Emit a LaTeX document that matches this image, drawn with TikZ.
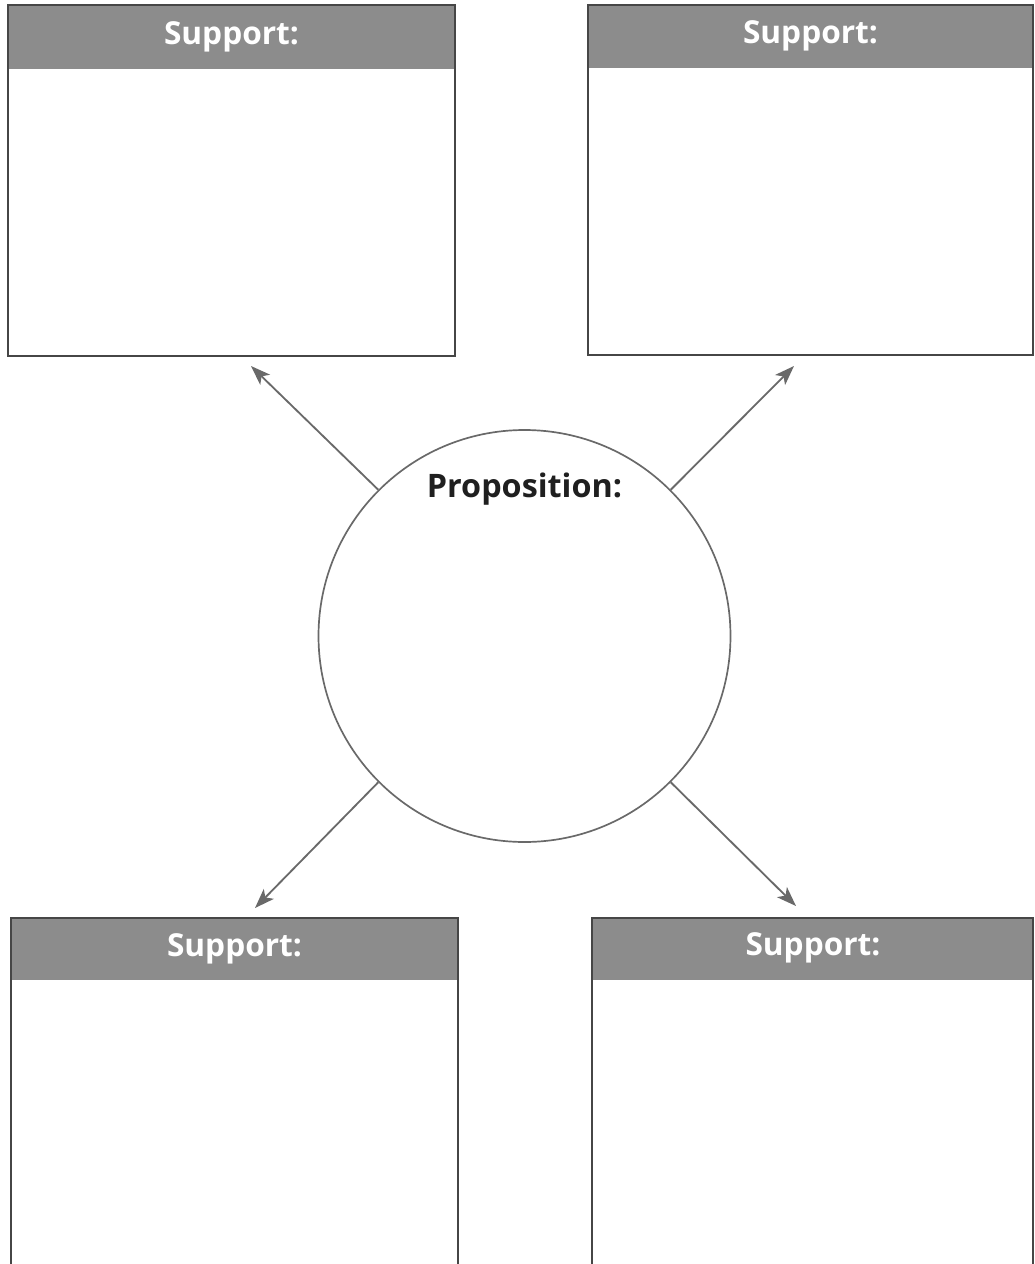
\documentclass[tikz,border=0pt]{standalone}
\usepackage{fontspec}
\newfontfamily\headfont{Open Sans}
\usetikzlibrary{arrows.meta}
\definecolor{headergray}{RGB}{140,140,140}
\definecolor{boxgray}{RGB}{70,70,70}
\definecolor{linegray}{RGB}{105,105,105}
\begin{document}
\begin{tikzpicture}[x=0.025cm,y=-0.025cm,
  box/.style={draw=boxgray, line width=1.4pt},
  header/.style={fill=headergray},
  heading/.style={text=white, font=\headfont\bfseries\fontsize{22.5}{26}\selectfont},
  spoke/.style={draw=linegray, line width=1.3pt, -{Stealth[length=14pt,width=10pt,inset=3.5pt]}}]
\useasboundingbox (0,0) rectangle (1034,1264);
\clip (0,0) rectangle (1034,1264);
\fill[white] (0,0) rectangle (1034,1264);
% support boxes
\fill[header] (8,5) rectangle (455,69);
\draw[box] (8,5) rectangle (455,356);
\node (sup1) [heading] at (231.5,37) {Support:};
\fill[header] (588,5) rectangle (1033,68);
\draw[box] (588,5) rectangle (1033,355);
\node (sup2) [heading] at (810.5,36) {Support:};
\fill[header] (11,918) rectangle (458,980);
\draw[box] (11,918) rectangle (458,1275);
\node (sup3) [heading] at (234.5,949) {Support:};
\fill[header] (592,918) rectangle (1033,980);
\draw[box] (592,918) rectangle (1033,1275);
\node (sup4) [heading] at (813,948) {Support:};
% proposition circle
\node (prop) [circle, draw=linegray, line width=1.2pt, minimum size=412*0.025cm, inner sep=0pt] at (524.5,636) {};
\node (proptext) [font=\headfont\bfseries\fontsize{23}{26}\selectfont, text=black!88] at (524.5,489) {Proposition:};
% arrow ends
\coordinate (e1) at (251,366);
\coordinate (e2) at (794,366);
\coordinate (e3) at (255,908);
\coordinate (e4) at (796,906);
\draw[spoke] (prop.135) -- (e1);
\draw[spoke] (prop.45) -- (e2);
\draw[spoke] (prop.225) -- (e3);
\draw[spoke] (prop.-45) -- (e4);
\end{tikzpicture}
\end{document}
